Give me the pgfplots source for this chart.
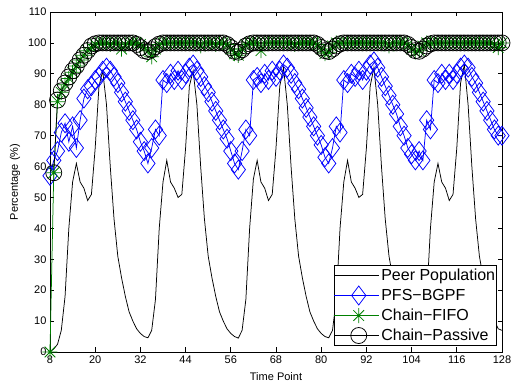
\documentclass[border=0pt]{standalone}
\usepackage{fontspec}
\setmainfont{Liberation Sans}
\usepackage{pgfplots}
\usepackage{pgfplotstable}
\pgfplotsset{compat=1.18}
\usetikzlibrary{plotmarks}
\definecolor{mblue}{rgb}{0,0,1}
\definecolor{mgreen}{rgb}{0,0.5,0}
\pgfdeclareplotmark{mstar}{%
  \pgfpathmoveto{\pgfqpoint{-\pgfplotmarksize}{0pt}}\pgfpathlineto{\pgfqpoint{\pgfplotmarksize}{0pt}}%
  \pgfpathmoveto{\pgfqpoint{0pt}{-\pgfplotmarksize}}\pgfpathlineto{\pgfqpoint{0pt}{\pgfplotmarksize}}%
  \pgfpathmoveto{\pgfqpoint{-.707\pgfplotmarksize}{-.707\pgfplotmarksize}}\pgfpathlineto{\pgfqpoint{.707\pgfplotmarksize}{.707\pgfplotmarksize}}%
  \pgfpathmoveto{\pgfqpoint{-.707\pgfplotmarksize}{.707\pgfplotmarksize}}\pgfpathlineto{\pgfqpoint{.707\pgfplotmarksize}{-.707\pgfplotmarksize}}%
  \pgfusepathqstroke}

\pgfplotstableread{
t peer pfs fifo passive
8 0 57 0 nan
9 1 62 58 58
10 2.5 65 81 81.5
11 7 71 84 84.5
12 18 74 86.5 87
13 40 68 88.5 89
14 55 73 90.5 91
15 61 66 92.5 92.5
16 55 75 94.5 94.5
17 53 82 96 96
18 49 85 97.5 97.5
19 51 86 98.5 99
20 66 88 99.5 99.7
21 86 89 100 100
22 91 91 100 100
23 80 92 100 100
24 60 91 99.5 100
25 43 89 100 100
26 31 87 100 100
27 24 84 98 100
28 18 81 99.5 100
29 13 78 100 100
30 10 75 100 100
31 7.5 72 100 99.5
32 6 68 99.5 98.5
33 5 65 98.5 97.5
34 4.6 61 97.5 97.2
35 7 66 95.5 97.8
36 17 72 98 98.8
37 40 70 99.5 99.6
38 55 88 100 100
39 62 87 100 100
40 55 90 100 100
41 53 88 100 100
42 50 91 100 100
43 51 88 100 100
44 66 90 100 100
45 86 92 100 100
46 91 93 100 100
47 80 91 100 100
48 60 89 99 100
49 43 86 100 100
50 31 84 100 100
51 24 81 100 100
52 18 78 99.5 100
53 13 75 100 100
54 10 72 100 100
55 7.5 69 99.5 99.5
56 6 65 98 98.5
57 5 61 96.5 97.3
58 4.5 59 96 97
59 7 65 98 97.8
60 17 72 99.5 99
61 40 70 100 99.7
62 56 88 100 100
63 62 89 100 100
64 55 87 97.5 100
65 53 90 100 100
66 49 88 100 100
67 51 91 100 100
68 66 89 100 100
69 86 91 100 100
70 92 93 100 100
71 80 92 100 100
72 60 90 100 100
73 43 87 99.5 100
74 31 85 100 100
75 24 82 100 100
76 18 79 100 100
77 13 76 100 100
78 10 73 100 100
79 7.5 70 99.5 99.5
80 6 67 98 98.5
81 5 63 96.5 97.5
82 4.6 61 97 97.2
83 7 66 99 98
84 17 73 100 99
85 40 71 100 99.7
86 55 88 100 100
87 62 87 100 100
88 55 90 100 100
89 53 89 100 100
90 50 91 100 100
91 51 88 100 100
92 66 91 100 100
93 86 93 100 100
94 92 94 100 100
95 80 92 100 100
96 60 89 100 100
97 43 86 100 100
98 31 83 99 100
99 24 80 100 100
100 18 77 100 100
101 13 73 100 100
102 10 70 100 100
103 7.5 66 99.5 99.5
104 6 64 98 98.5
105 5 62 97 97.5
106 4.6 65 97.5 97.3
107 7 62 99 98
108 17 75 100 99
109 40 72 100 99.7
110 55 88 100 100
111 61 87 100 100
112 55 90 100 100
113 53 88 100 100
114 49 90 100 100
115 51 88 100 100
116 66 90 100 100
117 87 92 100 100
118 93 93 100 100
119 80 92 100 100
120 60 89 100 100
121 43 87 100 100
122 31 84 100 100
123 24 81 100 100
124 18 78 100 100
125 13 75 100 100
126 10 72 99.5 100
127 7.5 70 98.5 100
128 7 70 100 100
}\datatable

\begin{document}
\begin{tikzpicture}
\path[use as bounding box] (-50bp,-29bp) rectangle (461bp,352bp);
\begin{axis}[
  scale only axis, width=452bp, height=340bp,
  xmin=8, xmax=128, ymin=0, ymax=110,
  xtick={8,20,...,128}, ytick={0,10,...,110},
  tick label style={font=\fontsize{11bp}{13bp}\selectfont},
  /pgf/number format/assume math mode=true,
  major tick length=4.5bp,
  tick style={black, line width=0.7bp},
  axis line style={line width=0.7bp},
  xlabel={Time Point}, ylabel={Percentage (\%)},
  label style={font=\fontsize{11bp}{13bp}\selectfont},
  xlabel style={at={(axis description cs:0.5,-0.0824)}, anchor=base},
  ylabel style={at={(axis description cs:-0.058,0.5)}, anchor=south},
  legend cell align=left,
  legend style={at={(axis description cs:0.989,0.018)}, anchor=south east,
    draw=black, line width=0.7bp, fill=white, inner sep=0pt,
    row sep=0pt, column sep=0pt,
    font=\fontsize{16bp}{18bp}\selectfont,
    nodes={inner xsep=1.5bp, inner ysep=2bp, text height=12.5bp, text depth=3.5bp}},
  legend image code/.code={%
    \path (0bp,0bp) -- (45bp,0bp);
    \draw[mark repeat=2,mark phase=2,#1] plot coordinates {(6.7bp,0bp) (24.3bp,0bp) (42bp,0bp)};},
]
\addplot[black, line width=0.75bp, no markers] table[x=t, y=peer] {\datatable};
\addlegendentry{Peer Population}
\addplot[mblue, line width=0.75bp, mark=diamond, mark size=9.5bp, mark options={solid, line width=0.75bp}] table[x=t, y=pfs] {\datatable};
\addlegendentry{PFS−BGPF}
\addplot[mgreen, line width=0.75bp, mark=mstar, mark size=7.5bp, mark options={solid, line width=0.75bp}] table[x=t, y=fifo] {\datatable};
\addlegendentry{Chain−FIFO}
\addplot[black, line width=0.75bp, mark=o, mark size=8bp, mark options={solid, line width=0.75bp}] table[x=t, y=passive] {\datatable};
\addlegendentry{Chain−Passive}
\end{axis}
\end{tikzpicture}
\end{document}
